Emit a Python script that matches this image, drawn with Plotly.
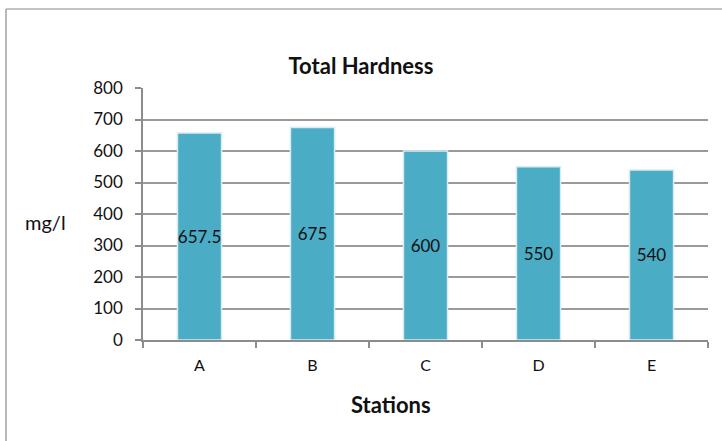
import plotly.graph_objects as go

stations = ["A", "B", "C", "D", "E"]
hardness = [657.5, 675, 600, 550, 540]
value_labels = ["657.5", "675", "600", "550", "540"]
y_ticks = [0, 100, 200, 300, 400, 500, 600, 700, 800]

W, H = 722, 441
L, R, T, B = 143, 14, 88, 101
pw = W - L - R
ph = H - T - B

def px_x(px):
    return (px - L) / pw

def px_y(py):
    return (H - B - py) / ph

font_family = "Lato, 'Open Sans', sans-serif"

fig = go.Figure()
fig.add_trace(go.Bar(
    x=stations, y=hardness,
    text=value_labels, textposition="inside", insidetextanchor="middle",
    textangle=0, constraintext="none",
    textfont=dict(family=font_family, size=17, color="#111111"),
    marker=dict(color="#4BACC6", line=dict(color="#D6ECF2", width=1.5)),
    width=0.39,
))

fig.update_layout(
    width=W, height=H,
    margin=dict(l=L, r=R, t=T, b=B),
    paper_bgcolor="white", plot_bgcolor="white",
    showlegend=False,
    font=dict(family=font_family, size=16, color="#111111"),
    title=dict(text="<b>Total Hardness</b>", x=0.5, xref="container",
               xanchor="center", y=1 - 66 / H, yref="container", yanchor="middle",
               font=dict(size=22, family=font_family, color="#111111")),
    bargap=0.61,
    xaxis=dict(
        type="category", showgrid=False, showline=True, linecolor="#8C8C8C", linewidth=1.5,
        ticks="outside", tickson="boundaries", ticklen=6, tickcolor="#8C8C8C", tickwidth=1.5,
        tickfont=dict(size=16, family=font_family, color="#111111"),
        ticklabelstandoff=10,
    ),
    yaxis=dict(
        range=[0, 800], tickvals=y_ticks, showgrid=True, gridcolor="#9A9A9A", gridwidth=1.5,
        showline=True, linecolor="#8C8C8C", linewidth=1.5, zeroline=False,
        ticks="outside", ticklen=6, tickcolor="#8C8C8C", tickwidth=1.5,
        tickfont=dict(size=17, family=font_family, color="#111111"),
        ticklabelstandoff=9,
    ),
)

fig.add_annotation(text="mg/l", xref="paper", yref="paper", x=px_x(45), y=px_y(222),
                   showarrow=False, xanchor="center", yanchor="middle",
                   font=dict(size=20, family=font_family, color="#111111"))
fig.add_annotation(text="<b>Stations</b>", xref="paper", yref="paper", x=px_x(391), y=px_y(404),
                   showarrow=False, xanchor="center", yanchor="middle",
                   font=dict(size=22, family=font_family, color="#111111"))

border = dict(color="#8A8A8A", width=1.2)
# left and top edges of the chart frame (others lie outside the picture)
fig.add_shape(type="line", xref="paper", yref="paper",
              x0=px_x(6), x1=px_x(6), y0=px_y(H + 2), y1=px_y(9), line=border, layer="below")
fig.add_shape(type="line", xref="paper", yref="paper",
              x0=px_x(6), x1=px_x(W + 2), y0=px_y(9), y1=px_y(9), line=border, layer="below")

fig.write_html("out.html")
